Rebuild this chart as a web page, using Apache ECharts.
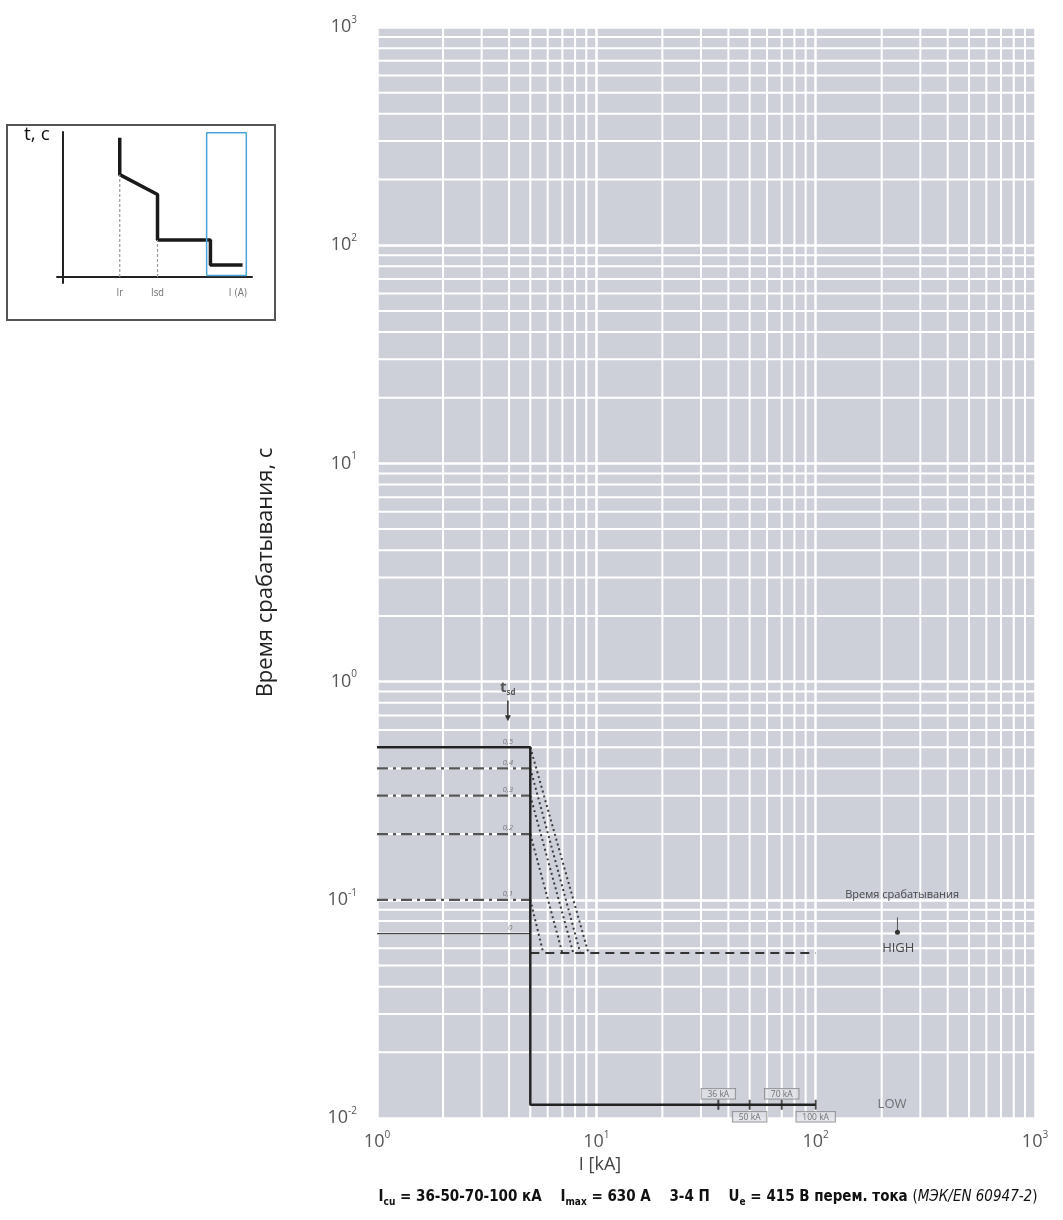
<!DOCTYPE html>
<html><head><meta charset="utf-8">
<script src="https://cdn.jsdelivr.net/npm/echarts@6/dist/echarts.min.js"></script>
<style>html,body{margin:0;padding:0;background:#fff}#c{width:1063px;height:1220px}</style>
</head><body><div id="c"></div>
<script>
// ---- data ----
const tsdLevels = [0.5, 0.4, 0.3, 0.2, 0.1];
const tsdLabels = ['0,5', '0,4', '0,3', '0,2', '0,1'];
const tsdZero = 0.07;
const tsdZeroLabel = '0';
const isd = 5;
const xStart = 1;
const slopeEnds = [9.2, 8.45, 7.85, 7.0, 5.73];
const highTime = 0.057;
const highEnd = 100;
const lowTime = 0.0115;
const lowEnd = 100;
const icuValues = [36, 50, 70, 100];
const icuLabels = ['36 kA', '50 kA', '70 kA', '100 kA'];
const labelX = 3.95;
const tsdArrow = [[3.95, 0.82], [3.95, 0.68]];
const highArrow = [[236, 0.083], [236, 0.071]];
const highTitlePos = [248, 0.105];
const highPos = [238, 0.06];
const lowPos = [223, 0.0115];
// inset schematic
const insetCurve = [[3.0, 9.8], [3.0, 7.2], [5.0, 5.8], [5.0, 2.6], [7.8, 2.6], [7.8, 0.85], [9.5, 0.85]];
const insetIr = [[3.0, 0], [3.0, 7.2]];
const insetIsd = [[5.0, 0], [5.0, 2.6]];
const insetBox = [[7.6, 0.1], [9.7, 0.1], [9.7, 10.15], [7.6, 10.15], [7.6, 0.1]];
const insetAxisLabels = [['Ir', 3.0], ['Isd', 5.0], ['I (A)', 9.26]];

// ---- helpers ----
const FONT = "'Open Sans','Noto Sans',sans-serif";
const NARROW = "'Liberation Sans Narrow','DejaVu Sans Condensed',sans-serif";
function powLabel(v) {
  const e = Math.round(Math.log10(v));
  return '{b|10}{s|' + e + '}';
}
const powRich = {
  b: { fontSize: 18, color: '#555', fontFamily: FONT, lineHeight: 24 },
  s: { fontSize: 10, color: '#555', fontFamily: FONT, lineHeight: 12, verticalAlign: 'top' }
};
const X_MIN = 1, X_MAX = 1000, Y_MIN = 0.01, Y_MAX = 1000;

const series = [];
// minor grid lines (2..9 per decade) through axis scales
for (let k = 0; k <= 2; k++) for (let m = 2; m <= 9; m++) {
  const x = m * Math.pow(10, k);
  series.push({ type: 'line', xAxisIndex: 0, yAxisIndex: 0, z: 1, silent: true, symbol: 'none',
    lineStyle: { color: '#ffffff', width: 2 }, data: [[x, Y_MIN], [x, Y_MAX]] });
}
for (let k = -2; k <= 2; k++) for (let m = 2; m <= 9; m++) {
  const y = m * Math.pow(10, k);
  series.push({ type: 'line', xAxisIndex: 0, yAxisIndex: 0, z: 1, silent: true, symbol: 'none',
    lineStyle: { color: '#ffffff', width: 2 }, data: [[X_MIN, y], [X_MAX, y]] });
}
// main solid curve (tsd 0.5)
series.push({
  type: 'line', xAxisIndex: 0, yAxisIndex: 0, z: 5, symbol: 'none',
  lineStyle: { color: '#222', width: 2.5 },
  data: [[xStart, tsdLevels[0]], [isd, tsdLevels[0]], [isd, lowTime], [lowEnd, lowTime]]
});
// dash-dot levels
tsdLevels.slice(1).forEach(v => {
  series.push({
    type: 'line', xAxisIndex: 0, yAxisIndex: 0, z: 4, symbol: 'none',
    lineStyle: { color: '#555', width: 2.2, type: [11, 5, 3, 5] },
    data: [[xStart, v], [isd, v]]
  });
});
// tsd = 0 thin line
series.push({
  type: 'line', xAxisIndex: 0, yAxisIndex: 0, z: 4, symbol: 'none',
  lineStyle: { color: '#444', width: 1.4 },
  data: [[xStart, tsdZero], [isd, tsdZero]]
});
// dotted slopes
tsdLevels.forEach((v, i) => {
  series.push({
    type: 'line', xAxisIndex: 0, yAxisIndex: 0, z: 4, symbol: 'none',
    lineStyle: { color: '#3a3a3a', width: 2, type: [2, 3] },
    data: [[isd, v], [slopeEnds[i], highTime]]
  });
});
// HIGH dashed
series.push({
  type: 'line', xAxisIndex: 0, yAxisIndex: 0, z: 4, symbol: 'none',
  lineStyle: { color: '#333', width: 2, type: [9, 6] },
  data: [[isd, highTime], [highEnd, highTime]]
});
// Icu ticks and boxed labels
series.push({
  type: 'scatter', xAxisIndex: 0, yAxisIndex: 0, z: 6, symbol: 'rect', symbolSize: [2, 10],
  itemStyle: { color: '#222' },
  data: icuValues.map((v, i) => ({
    value: [v, lowTime],
    label: {
      show: true, position: i % 2 ? 'bottom' : 'top', distance: i % 2 ? 2 : 1,
      formatter: icuLabels[i], fontSize: 8.5, color: '#555', fontFamily: FONT,
      borderColor: '#777', borderWidth: 0.8, padding: [1, 6, 0, 6], backgroundColor: '#dfe1e7'
    }
  }))
});
// small level labels
series.push({
  type: 'scatter', xAxisIndex: 0, yAxisIndex: 0, z: 6, symbolSize: 0,
  data: tsdLevels.map((v, i) => ({ value: [labelX, v], label: { formatter: tsdLabels[i] } }))
    .concat([{ value: [labelX + 0.1, tsdZero], label: { formatter: tsdZeroLabel } }]),
  label: { show: true, position: 'top', distance: 2, fontSize: 8, color: '#666', fontFamily: FONT, fontStyle: 'italic' }
});
// tsd title + arrow
series.push({
  type: 'scatter', xAxisIndex: 0, yAxisIndex: 0, z: 6, symbolSize: 0,
  data: [{ value: tsdArrow[0] }],
  label: { show: true, position: 'top', distance: 4, formatter: '{a|t}{b|sd}',
    rich: { a: { fontSize: 15, color: '#333', fontFamily: FONT, lineHeight: 18, fontWeight: 'bold' },
            b: { fontSize: 8, color: '#333', fontFamily: FONT, lineHeight: 9, verticalAlign: 'bottom', fontWeight: 'bold' } } }
});
series.push({
  type: 'line', xAxisIndex: 0, yAxisIndex: 0, z: 6, showSymbol: true,
  lineStyle: { color: '#333', width: 1.5 }, itemStyle: { color: '#333' },
  data: [{ value: tsdArrow[0], symbol: 'none' }, { value: tsdArrow[1], symbol: 'triangle', symbolRotate: 180, symbolSize: 6 }]
});
// HIGH / LOW annotations
series.push({
  type: 'scatter', xAxisIndex: 0, yAxisIndex: 0, z: 6, symbolSize: 0,
  data: [
    { value: highTitlePos, label: { formatter: 'Время срабатывания', fontSize: 11, color: '#222' } },
    { value: highPos, label: { formatter: 'HIGH', fontSize: 13, color: '#222' } },
    { value: lowPos, label: { formatter: 'LOW', fontSize: 13, color: '#555' } }
  ],
  label: { show: true, position: 'inside', fontFamily: FONT }
});
series.push({
  type: 'line', xAxisIndex: 0, yAxisIndex: 0, z: 6, showSymbol: true,
  lineStyle: { color: '#555', width: 1 }, itemStyle: { color: '#333' },
  data: [{ value: highArrow[0], symbol: 'none' }, { value: highArrow[1], symbol: 'circle', symbolSize: 5 }]
});
// ---- inset ----
series.push({
  type: 'line', xAxisIndex: 1, yAxisIndex: 1, symbol: 'none', clip: false,
  lineStyle: { color: '#1a1a1a', width: 3.5 }, data: insetCurve
});
[insetIr, insetIsd].forEach(d => series.push({
  type: 'line', xAxisIndex: 1, yAxisIndex: 1, symbol: 'none', clip: false,
  lineStyle: { color: '#999', width: 1.2, type: [3, 2] }, data: d
}));
series.push({
  type: 'line', xAxisIndex: 1, yAxisIndex: 1, symbol: 'none', clip: false,
  lineStyle: { color: '#4aa3d8', width: 1.5 }, data: insetBox
});
series.push({
  type: 'scatter', xAxisIndex: 1, yAxisIndex: 1, symbolSize: 0,
  data: insetAxisLabels.map(d => ({ value: [d[1], 0], label: { formatter: d[0] } })),
  label: { show: true, position: 'bottom', distance: 11, fontSize: 10, color: '#555', fontFamily: NARROW }
});

const option = {
  animation: false,
  backgroundColor: '#ffffff',
  grid: [
    { left: 377, top: 27, width: 658, height: 1091, show: true, backgroundColor: '#cdd0d9', borderWidth: 0 },
    { left: 57, top: 132, width: 195, height: 151, show: false }
  ],
  xAxis: [
    { type: 'log', logBase: 10, min: X_MIN, max: X_MAX, gridIndex: 0,
      axisLine: { show: false }, axisTick: { show: false },
      splitLine: { show: true, lineStyle: { color: '#fff', width: 2.5 } },
      axisLabel: { margin: 12, formatter: powLabel, rich: powRich } },
    { type: 'value', gridIndex: 1, min: -0.32, max: 10,
      axisLine: { show: true, onZero: true, lineStyle: { color: '#222', width: 2 } },
      axisTick: { show: false }, axisLabel: { show: false }, splitLine: { show: false } }
  ],
  yAxis: [
    { type: 'log', logBase: 10, min: Y_MIN, max: Y_MAX, gridIndex: 0,
      axisLine: { show: false }, axisTick: { show: false },
      splitLine: { show: true, lineStyle: { color: '#fff', width: 2.5 } },
      axisLabel: { margin: 20, formatter: powLabel, rich: powRich },
      name: 'Время срабатывания, с', nameLocation: 'middle', nameGap: 100,
      nameTextStyle: { fontSize: 22, color: '#222', fontFamily: FONT } },
    { type: 'value', gridIndex: 1, min: -0.42, max: 10.2,
      axisLine: { show: true, onZero: true, lineStyle: { color: '#222', width: 2 } },
      axisTick: { show: false }, axisLabel: { show: false }, splitLine: { show: false } }
  ],
  graphic: [
    { type: 'rect', shape: { x: 7, y: 125, width: 268, height: 195 },
      style: { fill: 'none', stroke: '#555', lineWidth: 2 }, z: 0 },
    { type: 'text', left: 24, top: 125, style: { text: 't, c', fontSize: 19, fill: '#111', fontFamily: FONT } },
    { type: 'text', x: 600, y: 1165, style: { text: 'I [kA]', fontSize: 18, fill: '#444', fontFamily: FONT, align: 'center', verticalAlign: 'middle' } },
    { type: 'text', x: 708, y: 1197, style: {
        text: '{b|I}{s|cu}{b| = 36-50-70-100 кА    I}{s|max}{b| = 630 A    3-4 П    U}{s|e}{b| = 415 В перем. тока }{n|(}{i|МЭК/EN 60947-2}{n|)}',
        align: 'center', verticalAlign: 'middle',
        rich: {
          b: { fontSize: 15, fontWeight: 'bold', fill: '#111', fontFamily: NARROW, lineHeight: 20 },
          s: { fontSize: 10, fontWeight: 'bold', fill: '#111', fontFamily: NARROW, lineHeight: 11, verticalAlign: 'bottom' },
          n: { fontSize: 15, fill: '#111', fontFamily: NARROW, lineHeight: 20 },
          i: { fontSize: 15, fontStyle: 'italic', fill: '#111', fontFamily: NARROW, lineHeight: 20 }
        } } }
  ],
  series: series
};
const chart = echarts.init(document.getElementById('c'));
chart.setOption(option);
</script>
</body></html>
